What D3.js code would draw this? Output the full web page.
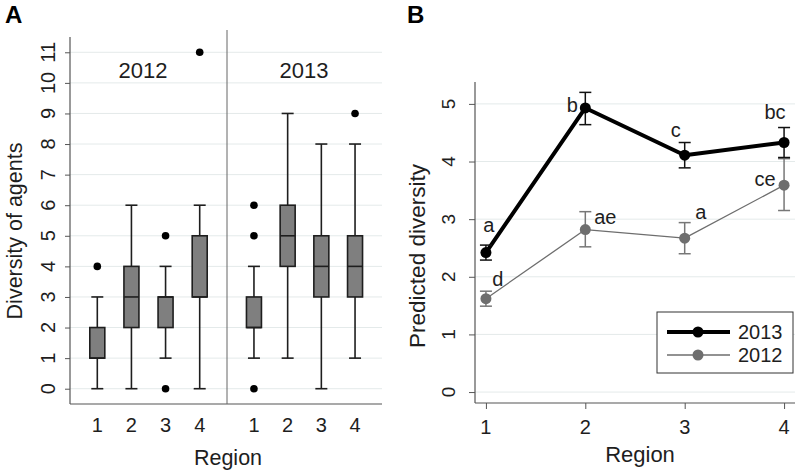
<!DOCTYPE html>
<html><head><meta charset="utf-8">
<script src="https://cdn.jsdelivr.net/npm/d3@7"></script>
<style>
html,body{margin:0;padding:0;background:#fff;}
svg{display:block;font-family:Arial,"Liberation Sans",sans-serif;}
</style></head>
<body>
<svg id="chart" width="800" height="475"></svg>
<script>
// ---------- Panel A data (box plots) ----------
const years = ["2012", "2013"];
const regions = ["1", "2", "3", "4"];
const whiskerLow2012 = [0, 0, 1, 0];
const q1_2012       = [1, 2, 2, 3];
const median2012    = [1, 3, 3, 3];
const q3_2012       = [2, 4, 3, 5];
const whiskerHigh2012 = [3, 6, 4, 6];
const outliers2012  = [[4], [], [0, 5], [11]];
const whiskerLow2013 = [1, 1, 0, 1];
const q1_2013       = [2, 4, 3, 3];
const median2013    = [2, 5, 4, 4];
const q3_2013       = [3, 6, 5, 5];
const whiskerHigh2013 = [4, 9, 8, 8];
const outliers2013  = [[0, 5, 6], [], [], [9]];
const yTicksA = [0,1,2,3,4,5,6,7,8,9,10,11];

// ---------- Panel B data (predicted diversity) ----------
const regionNums = [1, 2, 3, 4];
const pred2013 = [2.42, 4.93, 4.11, 4.33];
const lo2013   = [2.29, 4.64, 3.89, 4.07];
const hi2013   = [2.55, 5.20, 4.33, 4.59];
const labels2013 = ["a", "b", "c", "bc"];
const pred2012 = [1.62, 2.82, 2.67, 3.59];
const lo2012   = [1.49, 2.52, 2.40, 3.15];
const hi2012   = [1.75, 3.13, 2.94, 4.05];
const labels2012 = ["d", "ae", "a", "ce"];
const yTicksB = [0, 1, 2, 3, 4, 5];

// label offsets (layout only)
const off2013 = [[3,-21],[-13,4],[-9,-18],[-9,-24]];
const off2012 = [[12,-13],[20,-6],[16,-19],[-19,1]];

const svg = d3.select("#chart");
const ink = "#1e1e1e";
const grid = "#e4eaea";

// ===================== PANEL A =====================
const A = {left:70, right:382, top:37, bottom:404, mid:227};
const yA = d3.scaleLinear().domain([-0.5, 11.5]).range([A.bottom, A.top]);
const xA2012 = d3.scaleBand().domain(regions).range([A.left, A.mid]).paddingInner(0).paddingOuter(0.3);
const xA2013 = d3.scaleBand().domain(regions).range([A.mid, A.right]).paddingInner(0).paddingOuter(0.3);

const gA = svg.append("g");
gA.selectAll("line.grid").data(yTicksA).join("line")
  .attr("x1", A.left).attr("x2", A.right)
  .attr("y1", d => yA(d)).attr("y2", d => yA(d))
  .attr("stroke", grid).attr("stroke-width", 1);

const axisA = gA.append("g").attr("transform", `translate(${A.left},0)`)
  .call(d3.axisLeft(yA).tickValues(yTicksA).tickSize(5).tickFormat(""));
axisA.select(".domain").remove();
axisA.selectAll(".tick line").attr("stroke", "#555");
gA.append("line").attr("x1", A.left).attr("x2", A.left).attr("y1", A.top).attr("y2", A.bottom).attr("stroke", "#555").attr("stroke-width", 1.2);
gA.append("line").attr("x1", A.left).attr("x2", A.right).attr("y1", A.bottom).attr("y2", A.bottom).attr("stroke", "#555").attr("stroke-width", 1.2);
gA.append("line").attr("x1", A.mid).attr("x2", A.mid).attr("y1", 30).attr("y2", A.bottom).attr("stroke", "#666").attr("stroke-width", 1);

gA.selectAll("text.ytA").data(yTicksA).join("text")
  .attr("transform", d => `translate(55,${yA(d)}) rotate(-90)`)
  .attr("text-anchor", "middle").attr("font-size", 20).attr("fill", ink)
  .text(d => d);

function drawBoxes(xs, wl, q1, med, q3, wh, outs) {
  const bw = 15, cw = 12;
  regions.forEach((r, i) => {
    const cx = xs(r) + xs.bandwidth() / 2;
    const g = gA.append("g");
    g.append("line").attr("x1", cx).attr("x2", cx).attr("y1", yA(wl[i])).attr("y2", yA(q1[i]))
      .attr("stroke", ink).attr("stroke-width", 1.6);
    g.append("line").attr("x1", cx).attr("x2", cx).attr("y1", yA(q3[i])).attr("y2", yA(wh[i]))
      .attr("stroke", ink).attr("stroke-width", 1.6);
    g.append("line").attr("x1", cx - cw/2).attr("x2", cx + cw/2).attr("y1", yA(wl[i])).attr("y2", yA(wl[i]))
      .attr("stroke", ink).attr("stroke-width", 1.6);
    g.append("line").attr("x1", cx - cw/2).attr("x2", cx + cw/2).attr("y1", yA(wh[i])).attr("y2", yA(wh[i]))
      .attr("stroke", ink).attr("stroke-width", 1.6);
    g.append("rect").attr("x", cx - bw/2).attr("width", bw)
      .attr("y", yA(q3[i])).attr("height", yA(q1[i]) - yA(q3[i]))
      .attr("fill", "#7f7f7f").attr("stroke", ink).attr("stroke-width", 1.6);
    g.append("line").attr("x1", cx - bw/2).attr("x2", cx + bw/2).attr("y1", yA(med[i])).attr("y2", yA(med[i]))
      .attr("stroke", ink).attr("stroke-width", 1.6);
    g.selectAll("circle").data(outs[i]).join("circle")
      .attr("cx", cx).attr("cy", d => yA(d)).attr("r", 3.8).attr("fill", "#000");
  });
  regions.forEach(r => {
    gA.append("text").attr("x", xs(r) + xs.bandwidth()/2).attr("y", 432)
      .attr("text-anchor", "middle").attr("font-size", 20).attr("fill", ink).text(r);
  });
}
drawBoxes(xA2012, whiskerLow2012, q1_2012, median2012, q3_2012, whiskerHigh2012, outliers2012);
drawBoxes(xA2013, whiskerLow2013, q1_2013, median2013, q3_2013, whiskerHigh2013, outliers2013);

gA.append("text").attr("x", 143).attr("y", 78).attr("text-anchor", "middle").attr("font-size", 22).attr("fill", ink).text(years[0]);
gA.append("text").attr("x", 304).attr("y", 78).attr("text-anchor", "middle").attr("font-size", 22).attr("fill", ink).text(years[1]);

gA.append("text").attr("x", 228).attr("y", 465).attr("text-anchor", "middle").attr("font-size", 21.5).attr("fill", ink).text("Region");
gA.append("text").attr("transform", "translate(22,231) rotate(-90)").attr("text-anchor", "middle")
  .attr("font-size", 21.5).attr("fill", ink).text("Diversity of agents");
svg.append("text").attr("x", 5).attr("y", 23).attr("font-size", 24).attr("font-weight", "bold").attr("fill", "#000").text("A");

// ===================== PANEL B =====================
const B = {left:475, right:795, top:82, bottom:403};
const xB = d3.scaleLinear().domain([0.89, 4.11]).range([B.left, B.right]);
const yB = d3.scaleLinear().domain([-0.19, 5.38]).range([B.bottom, B.top]);
const gB = svg.append("g");

gB.selectAll("line.grid").data(yTicksB).join("line")
  .attr("x1", B.left).attr("x2", B.right)
  .attr("y1", d => yB(d)).attr("y2", d => yB(d))
  .attr("stroke", grid).attr("stroke-width", 1);

const yAxB = gB.append("g").attr("transform", `translate(${B.left},0)`)
  .call(d3.axisLeft(yB).tickValues(yTicksB).tickSize(6).tickFormat(""));
yAxB.select(".domain").remove();
yAxB.selectAll(".tick line").attr("stroke", "#555");
const xAxB = gB.append("g").attr("transform", `translate(0,${B.bottom})`)
  .call(d3.axisBottom(xB).tickValues(regionNums).tickSize(6).tickFormat(""));
xAxB.select(".domain").remove();
xAxB.selectAll(".tick line").attr("stroke", "#555");
gB.append("line").attr("x1", B.left).attr("x2", B.left).attr("y1", B.top).attr("y2", B.bottom).attr("stroke", "#555").attr("stroke-width", 1.2);
gB.append("line").attr("x1", B.left).attr("x2", B.right).attr("y1", B.bottom).attr("y2", B.bottom).attr("stroke", "#555").attr("stroke-width", 1.2);

gB.selectAll("text.ytB").data(yTicksB).join("text")
  .attr("transform", d => `translate(455,${yB(d)}) rotate(-90)`)
  .attr("text-anchor", "middle").attr("font-size", 19).attr("fill", ink).text(d => d);
gB.selectAll("text.xtB").data(regionNums).join("text")
  .attr("x", d => xB(d)).attr("y", 434).attr("text-anchor", "middle")
  .attr("font-size", 20).attr("fill", ink).text(d => d);

function drawSeries(vals, lo, hi, color, errColor, lw, r) {
  const line = d3.line().x((d, i) => xB(regionNums[i])).y(d => yB(d));
  gB.append("path").datum(vals).attr("d", line).attr("fill", "none")
    .attr("stroke", color).attr("stroke-width", lw).attr("stroke-linejoin", "round");
  regionNums.forEach((rn, i) => {
    const cx = xB(rn);
    gB.append("line").attr("x1", cx).attr("x2", cx).attr("y1", yB(lo[i])).attr("y2", yB(hi[i]))
      .attr("stroke", errColor).attr("stroke-width", 1.5);
    [lo[i], hi[i]].forEach(v => gB.append("line").attr("x1", cx - 6).attr("x2", cx + 6)
      .attr("y1", yB(v)).attr("y2", yB(v)).attr("stroke", errColor).attr("stroke-width", 1.5));
    gB.append("circle").attr("cx", cx).attr("cy", yB(vals[i])).attr("r", r).attr("fill", color);
  });
}
drawSeries(pred2012, lo2012, hi2012, "#6e6e6e", "#777", 1.3, 5.5);
drawSeries(pred2013, lo2013, hi2013, "#000", "#111", 4, 5.5);

function drawLabels(vals, labs, offs) {
  labs.forEach((t, i) => {
    gB.append("text").attr("x", xB(regionNums[i]) + offs[i][0]).attr("y", yB(vals[i]) + offs[i][1])
      .attr("text-anchor", "middle").attr("font-size", 20).attr("fill", ink).text(t);
  });
}
drawLabels(pred2013, labels2013, off2013);
drawLabels(pred2012, labels2012, off2012);

const lg = gB.append("g");
lg.append("rect").attr("x", 657).attr("y", 312).attr("width", 136).attr("height", 61)
  .attr("fill", "#fff").attr("stroke", "#333").attr("stroke-width", 1);
const legendItems = [
  {name: years[1], color: "#000", lw: 4, y: 332},
  {name: years[0], color: "#6e6e6e", lw: 1.3, y: 355}
];
legendItems.forEach(it => {
  lg.append("line").attr("x1", 667).attr("x2", 730).attr("y1", it.y).attr("y2", it.y)
    .attr("stroke", it.color).attr("stroke-width", it.lw);
  lg.append("circle").attr("cx", 698).attr("cy", it.y).attr("r", 5.5).attr("fill", it.color);
  lg.append("text").attr("x", 738).attr("y", it.y + 7).attr("font-size", 20).attr("fill", ink).text(it.name);
});

gB.append("text").attr("x", 640).attr("y", 462).attr("text-anchor", "middle").attr("font-size", 22).attr("fill", ink).text("Region");
gB.append("text").attr("transform", "translate(425,256) rotate(-90)").attr("text-anchor", "middle")
  .attr("font-size", 22.5).attr("fill", ink).text("Predicted diversity");
svg.append("text").attr("x", 407).attr("y", 23).attr("font-size", 24).attr("font-weight", "bold").attr("fill", "#000").text("B");
</script>
</body></html>
